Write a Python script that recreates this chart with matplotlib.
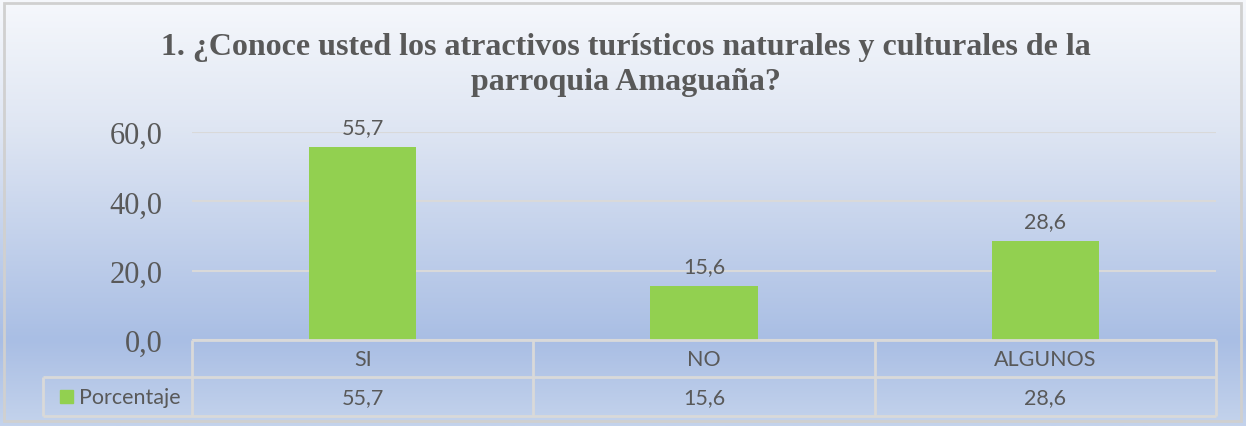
import numpy as np
import matplotlib
matplotlib.use('Agg')
from matplotlib import pyplot as plt
from matplotlib.colors import LinearSegmentedColormap
from matplotlib.patches import Rectangle

categories = ['SI', 'NO', 'ALGUNOS']
porcentaje = [55.7, 15.6, 28.6]
series_name = 'Porcentaje'
yticks = [0, 20, 40, 60]
title = '1. ¿Conoce usted los atractivos turísticos naturales y culturales de la\nparroquia Amaguaña?'

W, H = 1246, 427
BAR_COLOR = '#92d050'
TEXT_COLOR = '#595959'
LINE_COLOR = '#d9d9d9'
SANS = 'Lato'
SANS_SIZE = 15.5

# layout in pixels (top-left origin)
PX_L, PX_R = 192, 1216
PX_TOP, PX_BASE = 133, 341
ROW1, ROW2 = 378, 417
LEG_L = 43


def fmt(v):
    return f'{v:.1f}'.replace('.', ',')


fig = plt.figure(figsize=(W / 100, H / 100), dpi=100)

# background gradient
bg = fig.add_axes([0, 0, 1, 1], zorder=0)
bg.set_xlim(0, W)
bg.set_ylim(H, 0)
bg.axis('off')
cmap = LinearSegmentedColormap.from_list(
    'bg', [(0, '#f6f8fc'), (0.3, '#dfe6f3'), (0.8, '#a9bee4'), (1, '#c4d3ec')])
grad = np.linspace(0, 1, 256).reshape(-1, 1)
bg.imshow(grad, extent=[0, W, H, 0], aspect='auto', cmap=cmap, zorder=0)
bg.add_patch(Rectangle((4, 4), W - 9, H - 9, fill=False, edgecolor='#d0d0d0', lw=2, zorder=1))

bg.text(W / 2 + 3, 65, title, ha='center', va='center', fontsize=23, fontweight='bold',
        family='Liberation Serif', color=TEXT_COLOR, linespacing=1.3)

# main axes
ax = fig.add_axes([PX_L / W, (H - PX_BASE) / H, (PX_R - PX_L) / W, (PX_BASE - PX_TOP) / H], zorder=2)
ax.patch.set_alpha(0)
x = np.arange(len(categories))
bars = ax.bar(x, porcentaje, width=0.315, color=BAR_COLOR, zorder=3)
ax.set_xlim(-0.5, len(categories) - 0.5)
ax.set_ylim(0, 60)
ax.set_yticks(yticks)
ax.set_yticklabels([fmt(v) for v in yticks], family='Liberation Serif', fontsize=22, color=TEXT_COLOR)
ax.tick_params(axis='y', length=0, pad=21)
ax.set_xticks([])
for s in ax.spines.values():
    s.set_visible(False)
ax.grid(axis='y', color=LINE_COLOR, lw=1.5, zorder=1)
for b, v in zip(bars, porcentaje):
    ax.annotate(fmt(v), (b.get_x() + b.get_width() / 2, v), xytext=(0, 7), textcoords='offset points',
                ha='center', va='bottom', fontsize=SANS_SIZE, family=SANS, color=TEXT_COLOR, clip_on=False)

# data table below
ov = fig.add_axes([0, 0, 1, 1], zorder=3)
ov.set_xlim(0, W)
ov.set_ylim(H, 0)
ov.axis('off')
col_w = (PX_R - PX_L) / len(categories)
edges = [PX_L + i * col_w for i in range(len(categories) + 1)]
kw = dict(color=LINE_COLOR, lw=2, solid_capstyle='butt')
ov.plot([PX_L, PX_R], [PX_BASE, PX_BASE], **kw)
ov.plot([LEG_L, PX_R], [ROW1, ROW1], **kw)
ov.plot([LEG_L, PX_R], [ROW2, ROW2], **kw)
for e in edges:
    ov.plot([e, e], [PX_BASE, ROW2], **kw)
ov.plot([LEG_L, LEG_L], [ROW1, ROW2], **kw)
for i, (c, v) in enumerate(zip(categories, porcentaje)):
    cx = (edges[i] + edges[i + 1]) / 2
    ov.text(cx, (PX_BASE + ROW1) / 2 + 1, c, ha='center', va='center', fontsize=SANS_SIZE, family=SANS, color=TEXT_COLOR)
    ov.text(cx, (ROW1 + ROW2) / 2 + 1, fmt(v), ha='center', va='center', fontsize=SANS_SIZE, family=SANS, color=TEXT_COLOR)
ov.add_patch(Rectangle((60, 391), 13, 13, color=BAR_COLOR))
ov.text(79, (ROW1 + ROW2) / 2 + 1, series_name, ha='left', va='center', fontsize=SANS_SIZE, family=SANS, color=TEXT_COLOR)

fig.savefig('out.png', dpi=100)
